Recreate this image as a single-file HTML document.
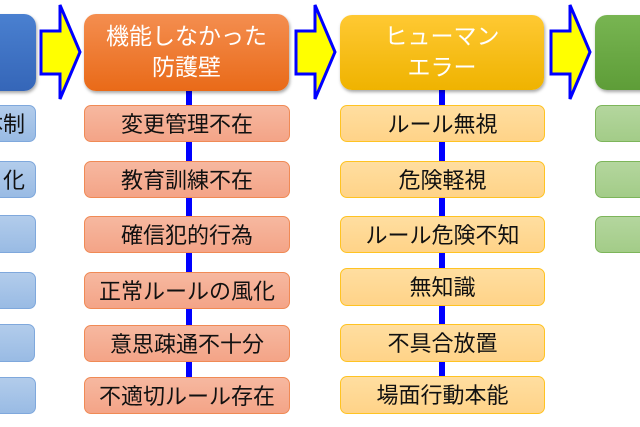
<!DOCTYPE html>
<html><head><meta charset="utf-8"><style>
body{margin:0;width:640px;height:427px;background:#fff;position:relative;overflow:hidden;font-family:"Liberation Sans","Noto Sans CJK JP",sans-serif}
.b{position:absolute;box-sizing:border-box;border-radius:7px;display:flex;align-items:center;justify-content:center;font-size:22px;color:#111;white-space:nowrap;overflow:hidden;padding-bottom:2px}
.h{border-radius:12px;color:#fff;font-size:23px;line-height:31px;text-align:center;box-shadow:1px 2px 3px rgba(0,0,0,.35)}
.o{background:linear-gradient(#f6b8a0,#f4a487);border:1.5px solid #f08a55}
.y{background:linear-gradient(#ffdea0,#ffd388);border:1.5px solid #ffc322}
.g{background:linear-gradient(#b4d69e,#a3cc88);border:1.5px solid #7db55a}
.bl{background:linear-gradient(#b2cceb,#99bbe4);border:1.5px solid #7fa8dc}
.v{position:absolute;width:6px;background:#0000ff}
</style></head><body>
<div class="v" style="left:186px;top:90px;height:300px"></div>
<div class="v" style="left:439px;top:90px;height:300px"></div>

<div class="b h" style="left:-30px;top:14px;width:66px;height:77px;background:linear-gradient(#4a80d0,#3566b8)"></div>
<div class="b h" style="left:84px;top:14px;width:205px;height:77px;background:linear-gradient(#f48e50,#e96a18)">機能しなかった<br>防護壁</div>
<div class="b h" style="left:340px;top:15px;width:204px;height:75px;background:linear-gradient(#ffc933,#efb300)">ヒューマン<br>エラー</div>
<div class="b h" style="left:595px;top:15px;width:60px;height:75px;background:linear-gradient(#78b552,#5e9d38)"></div>

<div class="b bl" style="left:-30px;top:105px;width:66px;height:37px;justify-content:flex-end;padding-right:10px">体制</div>
<div class="b bl" style="left:-30px;top:161px;width:66px;height:37px;justify-content:flex-end;padding-right:10px">化</div>
<div class="b bl" style="left:-30px;top:215px;width:66px;height:38px"></div>
<div class="b bl" style="left:-30px;top:272px;width:66px;height:37px"></div>
<div class="b bl" style="left:-30px;top:324px;width:65px;height:38px"></div>
<div class="b bl" style="left:-30px;top:377px;width:66px;height:37px"></div>

<div class="b o" style="left:84px;top:105px;width:206px;height:37px">変更管理不在</div>
<div class="b o" style="left:84px;top:161px;width:206px;height:37px">教育訓練不在</div>
<div class="b o" style="left:84px;top:216px;width:206px;height:37px">確信犯的行為</div>
<div class="b o" style="left:84px;top:272px;width:206px;height:37px">正常ルールの風化</div>
<div class="b o" style="left:84px;top:325px;width:206px;height:37px">意思疎通不十分</div>
<div class="b o" style="left:84px;top:377px;width:206px;height:37px">不適切ルール存在</div>

<div class="b y" style="left:340px;top:105px;width:205px;height:37px">ルール無視</div>
<div class="b y" style="left:340px;top:161px;width:205px;height:37px">危険軽視</div>
<div class="b y" style="left:340px;top:216px;width:205px;height:37px">ルール危険不知</div>
<div class="b y" style="left:340px;top:268px;width:205px;height:38px">無知識</div>
<div class="b y" style="left:340px;top:324px;width:205px;height:38px">不具合放置</div>
<div class="b y" style="left:340px;top:376px;width:205px;height:38px">場面行動本能</div>

<div class="b g" style="left:595px;top:105px;width:60px;height:37px"></div>
<div class="b g" style="left:595px;top:161px;width:60px;height:37px"></div>
<div class="b g" style="left:595px;top:216px;width:60px;height:37px"></div>

<svg width="640" height="427" style="position:absolute;left:0;top:0">
<g fill="#ffff00" stroke="#0000ff" stroke-width="3" stroke-linejoin="miter">
<polygon points="41,31 60,31 60,5 80,52 60,99 60,74 41,74"/>
<polygon points="296,31 315,31 315,5 335,52 315,99 315,74 296,74"/>
<polygon points="551,31 570,31 570,5 590,52 570,99 570,74 551,74"/>
</g></svg>
</body></html>
